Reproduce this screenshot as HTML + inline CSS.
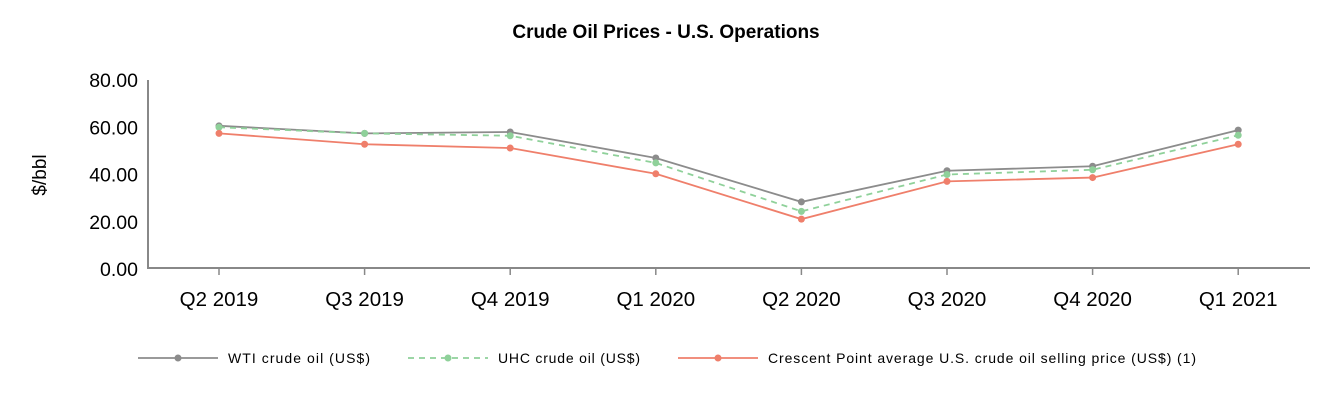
<!DOCTYPE html>
<html><head><meta charset="utf-8"><style>
body{margin:0;background:#fff;}
svg text{font-family:"Liberation Sans",Arial,sans-serif;}
</style></head><body>
<svg id="chart" width="1332" height="400">
<text x="666" y="38" text-anchor="middle" font-size="19" font-weight="bold">Crude Oil Prices - U.S. Operations</text>
<text transform="translate(46,175) rotate(-90)" text-anchor="middle" font-size="19">$/bbl</text>
<g id="axes"></g><g id="series"></g><g id="legend"></g>
</svg>
<script>
const categories=["Q2 2019","Q3 2019","Q4 2019","Q1 2020","Q2 2020","Q3 2020","Q4 2020","Q1 2021"];
const wti=[60.6,57.4,58.0,47.0,28.4,41.6,43.5,58.8];
const uhc=[60.0,57.4,56.4,44.9,24.4,40.0,42.0,56.6];
const crescent=[57.4,52.8,51.2,40.3,21.1,37.1,38.7,52.8];
const yTicks=[0,20,40,60,80];
const yTickLabels=["0.00","20.00","40.00","60.00","80.00"];
const seriesNames=["WTI crude oil (US$)","UHC crude oil (US$)","Crescent Point average U.S. crude oil selling price (US$) (1)"];
const NS="http://www.w3.org/2000/svg";
const x0=148,x1=1310,y0=269,yTop=80;
const xs=i=>219+i*145.6;
const ys=v=>y0-(v/80)*(y0-yTop);
function mk(tag,attrs,parent,txt){const e=document.createElementNS(NS,tag);for(const k in attrs)e.setAttribute(k,attrs[k]);if(txt!==undefined)e.textContent=txt;parent.appendChild(e);return e;}
const ax=document.getElementById('axes');
let l=mk('line',{x1:x0,y1:yTop,x2:x0,y2:y0,stroke:'#888','stroke-width':2},ax);


l=mk('line',{x1:x0,y1:y0-1,x2:x1,y2:y0-1,stroke:'#888','stroke-width':2},ax);


yTicks.forEach((v,i)=>{const t=mk('text',{x:138,y:ys(v)+7,'text-anchor':'end','font-size':19.5},ax,yTickLabels[i]);

});
categories.forEach((c,i)=>{const tk=mk('line',{x1:xs(i),y1:y0,x2:xs(i),y2:y0+6,stroke:'#888','stroke-width':1.5},ax);


const t=mk('text',{x:xs(i),y:306,'text-anchor':'middle','font-size':20.5},ax,c);

});
const sg=document.getElementById('series');
const defs=[{d:wti,c:'#8c8c8c',dash:'',n:'wti'},{d:uhc,c:'#8fd19a',dash:'6,5',n:'uhc'},{d:crescent,c:'#ef7f6b',dash:'',n:'crescent'}];
defs.forEach(s=>{const p=mk('polyline',{points:s.d.map((v,i)=>xs(i)+','+ys(v)).join(' '),fill:'none',stroke:s.c,'stroke-width':1.8,'stroke-dasharray':s.dash},sg);


s.d.forEach((v,i)=>{const c=mk('circle',{cx:xs(i),cy:ys(v),r:3.5,fill:s.c},sg);

});});
const lg=document.getElementById('legend');
const lx=[138,408,678];
defs.forEach((s,i)=>{const g=mk('g',{},lg);


mk('line',{x1:lx[i],y1:358,x2:lx[i]+80,y2:358,stroke:s.c,'stroke-width':1.8,'stroke-dasharray':s.dash},g);
mk('circle',{cx:lx[i]+40,cy:358,r:3.5,fill:s.c},g);
mk('text',{x:lx[i]+90,y:363,'font-size':14,'textLength':i==0?142:(i==1?142:428),'lengthAdjust':'spacing'},g,seriesNames[i]);});
</script>
</body></html>
